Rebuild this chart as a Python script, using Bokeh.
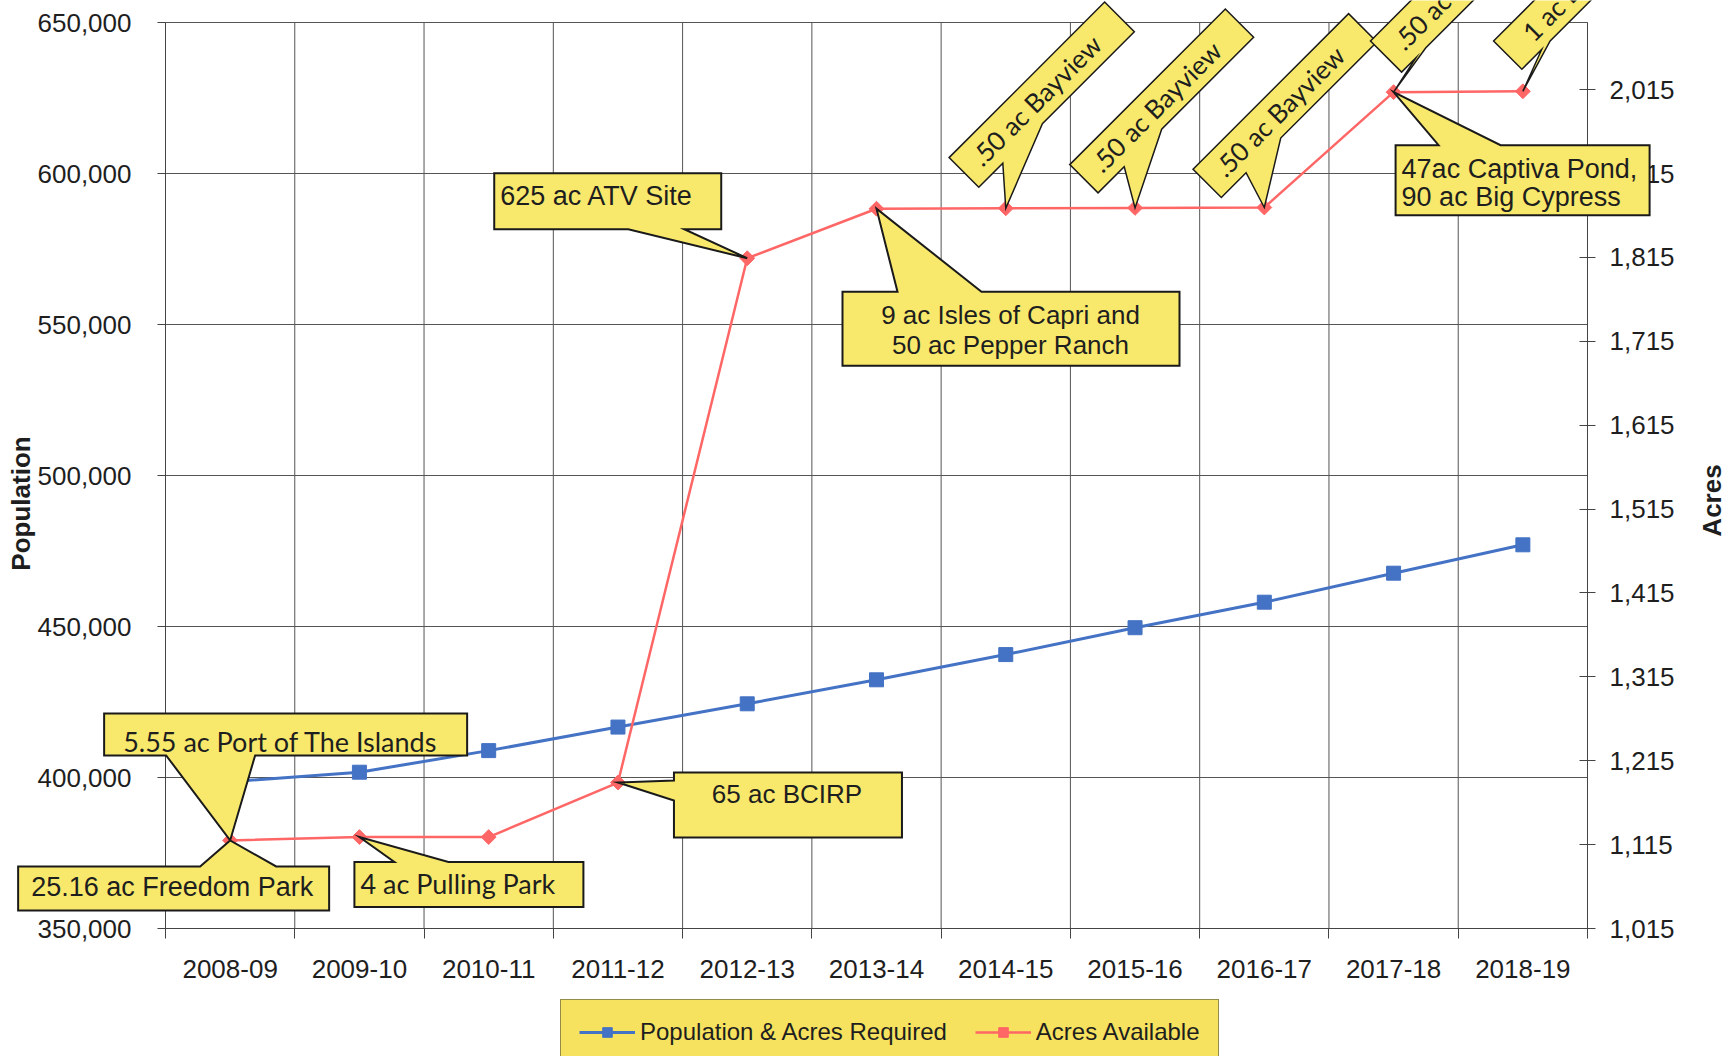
import math
from bokeh.plotting import figure
from bokeh.models import (Range1d, LinearAxis, FixedTicker, NumeralTickFormatter,
                          PolyAnnotation, Label, Legend, LegendItem)
from bokeh.embed import file_html
from bokeh.resources import INLINE

# ---------------- data ----------------
years = ["2008-09", "2009-10", "2010-11", "2011-12", "2012-13", "2013-14",
         "2014-15", "2015-16", "2016-17", "2017-18", "2018-19"]
population = [398600, 401750, 408900, 416700, 424400, 432350,
              440700, 449600, 458050, 467650, 477050]
acres_available = [1120, 1124, 1124, 1189, 1814, 1873,
                   1873.5, 1874, 1874.5, 2012, 2013]
pop_ticks = [350000, 400000, 450000, 500000, 550000, 600000, 650000]
acre_ticks = [1015, 1115, 1215, 1315, 1415, 1515, 1615, 1715, 1815, 1915, 2015]
series_names = ["Population & Acres Required", "Acres Available"]

# ---------------- layout / style ----------------
W, H = 1726, 1056
FL, FR, FT, FB = 165, 1587, 22, 928          # plot area inside the canvas
POP_LO, POP_HI = 350000, 650000
AC_LO, AC_HI = 1015, 2095
N = len(years)
XS = (FR - FL) / N
YS = (FB - FT) / (POP_HI - POP_LO)
AYS = (FB - FT) / (AC_HI - AC_LO)

BLUE = "#4472C4"
RED = "#FF6666"
YELLOW = "#F8E96C"
LEG_YELLOW = "#F6E25F"
INK = "#1e1e1e"
EDGE = "#1a1a1a"
GRID = "#555555"
AXIS = "#444444"
ARIAL = "Liberation Sans"
CALIBRI = "Lato"

xc = [i + 0.5 for i in range(N)]
bounds_x = list(range(N + 1))


def ac2pop(a):
    return POP_LO + (a - AC_LO) / (AC_HI - AC_LO) * (POP_HI - POP_LO)


def off(x0, y0, dx, dy):
    return x0 + dx / XS, y0 - dy / YS


def canvas_pt(cx, cy):
    return (cx - FL) / XS, POP_LO + (FB - cy) / YS


p = figure(width=W, height=H, output_backend="svg", toolbar_location=None,
           x_range=Range1d(-FL / XS, N + (W - FR) / XS),
           y_range=Range1d(POP_LO - (H - FB) / YS, POP_HI + FT / YS),
           min_border=0, background_fill_color="white",
           border_fill_color="white")
p.extra_y_ranges = {"acres": Range1d(AC_LO - (H - FB) / AYS, AC_HI + FT / AYS)}
p.outline_line_color = None
p.grid.visible = False

# gridlines (plot area only)
p.segment(x0=bounds_x, y0=[POP_LO] * len(bounds_x), x1=bounds_x,
          y1=[POP_HI] * len(bounds_x), line_color=GRID, line_width=1,
          level="underlay")
p.segment(x0=[0] * len(pop_ticks), y0=pop_ticks, x1=[N] * len(pop_ticks),
          y1=pop_ticks, line_color=GRID, line_width=1, level="underlay")

# x axis: labels at category centers, tick marks at boundaries
xa = p.xaxis[0]
xa.fixed_location = POP_LO
xa.bounds = (0, N)
xa.ticker = FixedTicker(ticks=xc, minor_ticks=bounds_x)
xa.major_label_overrides = {c: y for c, y in zip(xc, years)}
xa.major_tick_out = 0
xa.major_tick_in = 0
xa.minor_tick_out = 10
xa.minor_tick_in = 0
xa.minor_tick_line_color = AXIS
xa.major_label_standoff = 21
xa.major_label_text_font = ARIAL
xa.major_label_text_font_size = "26px"
xa.major_label_text_color = INK
xa.axis_line_color = AXIS

ya = p.yaxis[0]
ya.fixed_location = 0
ya.bounds = (POP_LO, POP_HI)
ya.ticker = FixedTicker(ticks=pop_ticks)
ya.formatter = NumeralTickFormatter(format="0,0")
ya.major_tick_out = 8
ya.major_tick_in = 0
ya.minor_tick_out = 0
ya.minor_tick_in = 0
ya.major_label_standoff = 26
ya.major_label_text_font = ARIAL
ya.major_label_text_font_size = "26px"
ya.major_label_text_color = INK
ya.axis_line_color = AXIS
ya.major_tick_line_color = AXIS

ra = LinearAxis(y_range_name="acres", ticker=FixedTicker(ticks=acre_ticks),
                formatter=NumeralTickFormatter(format="0,0"),
                fixed_location=N, bounds=(AC_LO, AC_HI))
ra.major_tick_out = 8
ra.major_tick_in = 8
ra.minor_tick_out = 0
ra.minor_tick_in = 0
ra.major_label_standoff = 14
ra.major_label_text_font = ARIAL
ra.major_label_text_font_size = "26px"
ra.major_label_text_color = INK
ra.axis_line_color = AXIS
ra.major_tick_line_color = AXIS
p.add_layout(ra, "right")

# series
bl = p.line(xc, population, line_color=BLUE, line_width=3)
bs = p.scatter(xc, population, marker="square", size=14, fill_color=BLUE,
               line_color=BLUE)
rl = p.line(xc, acres_available, line_color=RED, line_width=2.5,
            y_range_name="acres")
rs = p.scatter(xc, acres_available, marker="square", angle=math.pi / 4, size=10.5,
               fill_color=RED, line_color=RED, y_range_name="acres")

legend = Legend(items=[LegendItem(label=series_names[0], renderers=[bl, bs]),
                       LegendItem(label=series_names[1], renderers=[rl, rs])],
                orientation="horizontal", location=(560, -9),
                label_text_font=ARIAL, label_text_font_size="24px",
                label_text_color=INK, label_height=24, glyph_height=24,
                glyph_width=56, label_standoff=5, spacing=28, padding=18,
                margin=0, border_line_color="#333333", border_line_width=1.5,
                background_fill_color=LEG_YELLOW, background_fill_alpha=1)
p.add_layout(legend)


# ---------------- callouts ----------------
def add_poly(i, verts, lw):
    x0, y0 = xc[i], ac2pop(acres_available[i])
    pts = [off(x0, y0, dx, dy) for dx, dy in verts]
    p.add_layout(PolyAnnotation(xs=[q[0] for q in pts], ys=[q[1] for q in pts],
                                fill_color=YELLOW, fill_alpha=1,
                                line_color=EDGE, line_alpha=1, line_width=lw,
                                line_join="miter"))
    return x0, y0


def add_callout(i, verts, texts):
    x0, y0 = add_poly(i, verts, 2)
    for (t, dx, dy, font, size, align) in texts:
        tx, ty = off(x0, y0, dx, dy)
        p.add_layout(Label(x=tx, y=ty, text=t, text_font=font,
                           text_font_size=size, text_color=INK,
                           text_align=align, text_baseline="middle"))


add_callout(4, [(-253, -85), (-26, -85), (-26, -29), (-63, -29), (0, 0),
                (-119, -29), (-253, -29)],
            [("625 ac ATV Site", -247, -62, ARIAL, "27px", "left")])
add_callout(5, [(-34, 83), (21, 83), (0, 0), (105, 83), (303, 83), (303, 157),
                (-34, 157)],
            [("9 ac Isles of Capri and", 134, 106, ARIAL, "26px", "center"),
             ("50 ac Pepper Ranch", 134, 136, ARIAL, "26px", "center")])
add_callout(0, [(-126, -127), (237, -127), (237, -85), (25, -85), (0, 0),
                (-64, -85), (-126, -85)],
            [("5.55 ac Port of The Islands", -107, -99, CALIBRI, "27px", "left")])
add_callout(0, [(-212, 26), (-30, 26), (0, 0), (46, 26), (99, 26), (99, 70),
                (-212, 70)],
            [("25.16  ac Freedom Park", -199, 47, ARIAL, "27px", "left")])
add_callout(1, [(-5, 25), (35, 25), (0, 0), (89, 25), (224, 25), (224, 70),
                (-5, 70)],
            [("4 ac Pulling Park", 1, 46, CALIBRI, "27px", "left")])
add_callout(3, [(56, -10), (284, -10), (284, 55), (56, 55), (56, 18), (0, 0),
                (56, -2)],
            [("65 ac BCIRP", 169, 11, ARIAL, "26px", "center")])
add_callout(9, [(2, 53), (45, 53), (0, 0), (107, 53), (256, 53), (256, 123),
                (2, 123)],
            [("47ac Captiva Pond,", 8, 77, ARIAL, "27px", "left"),
             ("90 ac Big Cypress", 8, 105, ARIAL, "27px", "left")])

# rotated (45 degree) callouts
R2 = math.sqrt(0.5)
U = (R2, -R2)
V = (-R2, -R2)
rotated = [
    (6, (-27, -21), 220, 42, (34, 90), ".50 ac Bayview"),
    (7, (-37, -15), 220, 40, (37, 90), ".50 ac Bayview"),
    (8, (-43, -10), 220, 40, (35, 84), ".50 ac Bayview"),
    (9, (8, -20), 220, 44, (20, 34), ".50 ac Bayview"),
    (10, (-1, -22), 220, 40, (28, 40), "1 ac Bayview"),
]
for i, c, L, Hb, (b1, b2), t in rotated:
    def pt(u, v):
        return (c[0] + u * U[0] + v * V[0], c[1] + u * U[1] + v * V[1])
    verts = [(0, 0), pt(b1, 0), pt(0, 0), pt(0, Hb), pt(L, Hb), pt(L, 0),
             pt(b2, 0)]
    x0, y0 = add_poly(i, verts, 1.5)
    cdx, cdy = pt(102, Hb / 2)
    tx, ty = off(x0, y0, cdx, cdy)
    p.add_layout(Label(x=tx, y=ty, text=t, text_font=CALIBRI,
                       text_font_size="26px", text_color=INK,
                       text_align="center", text_baseline="middle",
                       angle=math.pi / 4))

# axis titles
lx, ly = canvas_pt(20, 503)
p.add_layout(Label(x=lx, y=ly, text="Population", angle=math.pi / 2,
                   text_font=ARIAL, text_font_style="bold",
                   text_font_size="26px", text_color=INK,
                   text_align="center", text_baseline="middle"))
rx, ry = canvas_pt(1711, 500)
p.add_layout(Label(x=rx, y=ry, text="Acres", angle=math.pi / 2,
                   text_font=ARIAL, text_font_style="bold",
                   text_font_size="26px", text_color=INK,
                   text_align="center", text_baseline="middle"))

open("out.html", "w").write(file_html(p, INLINE))
